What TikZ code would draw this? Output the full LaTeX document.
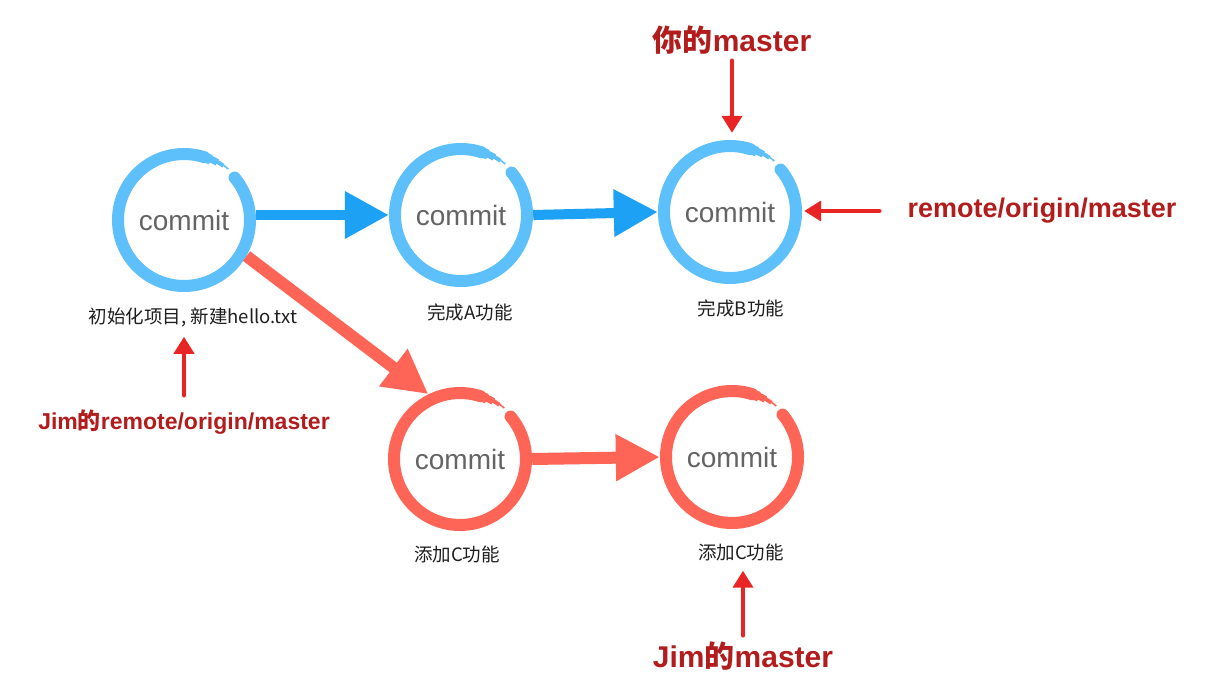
\documentclass[tikz,border=0pt]{standalone}
\usepackage{fontspec}
\setmainfont{Liberation Sans}
\newfontfamily\cjk{Noto Sans CJK SC}
\usetikzlibrary{arrows.meta}
\definecolor{ringblue}{RGB}{94,192,250}
\definecolor{arrowblue}{RGB}{28,161,245}
\definecolor{ringred}{RGB}{254,101,86}
\definecolor{pointred}{RGB}{232,36,36}
\definecolor{tagred}{RGB}{178,28,28}
\definecolor{commitgray}{RGB}{100,100,100}
\definecolor{captioncol}{RGB}{30,30,30}
\newcommand{\brushring}[2]{%
  \draw[#2, line width=12pt, line cap=round] ([shift={(40:66pt)}]#1.center) arc[start angle=40, end angle=-288, radius=66pt];
  \draw[#2, line width=10pt] ([shift={(73:66pt)}]#1.center) arc[start angle=73, end angle=66, radius=66pt];
  \draw[#2, line width=7pt] ([shift={(67:66.5pt)}]#1.center) arc[start angle=67, end angle=60, radius=66.5pt];
  \draw[#2, line width=4pt] ([shift={(61:67pt)}]#1.center) arc[start angle=61, end angle=54, radius=67pt];
  \draw[#2, line width=1.5pt] ([shift={(55:67.5pt)}]#1.center) arc[start angle=55, end angle=49, radius=67.5pt];
}
\begin{document}
\begin{tikzpicture}[x=1pt,y=1pt,
  commitnode/.style={circle, minimum size=144pt, inner sep=0pt, font=\fontsize{28}{30}\selectfont, text=commitgray},
  caption/.style={font=\cjk\fontsize{18.5}{20}\selectfont, text=captioncol, inner sep=2pt},
  tag/.style={text=tagred, inner sep=2pt},
  bluearrow/.style={draw=arrowblue, line width=10pt, -{Triangle[length=44pt,width=45pt]}},
  redarrow/.style={draw=ringred, line width=12pt, -{Triangle[length=44pt,width=44pt]}},
  pointer/.style={draw=pointred, fill=pointred, line width=4pt, line cap=round, -{Triangle[length=17pt,width=20pt]}},
]
\useasboundingbox (0,0) rectangle (1210,678);
\fill[white] (0,0) rectangle (1210,678);

% commits
\node[commitnode] (c1) at (184,458) {commit};
\node[commitnode] (c2) at (461,463) {commit};
\node[commitnode] (c3) at (730,466) {commit};
\node[commitnode] (c4) at (460,219) {commit};
\node[commitnode] (c5) at (732,221) {commit};
\brushring{c1}{ringblue}
\brushring{c2}{ringblue}
\brushring{c3}{ringblue}
\brushring{c4}{ringred}
\brushring{c5}{ringred}

% captions
\node[caption] (cap1) at (193,361) {初始化项目, 新建hello.txt};
\node[caption] (cap2) at (470,366) {完成A功能};
\node[caption] (cap3) at (741,370) {完成B功能};
\node[caption] (cap4) at (457,124) {添加C功能};
\node[caption] (cap5) at (741,126) {添加C功能};

% tags
\node[tag, font=\bfseries\fontsize{30}{32}\selectfont] (t1) at (732,638) {{\cjk\bfseries 你的}master};
\node[tag, font=\bfseries\fontsize{27}{30}\selectfont] (t2) at (1042,467) {remote/origin/master};
\node[tag, font=\bfseries\fontsize{23}{26}\selectfont] (t3) at (184,256) {Jim{\cjk\bfseries 的}remote/origin/master};
\node[tag, font=\bfseries\fontsize{30}{32}\selectfont] (t4) at (743,22) {Jim{\cjk\bfseries 的}master};

% commit connectors
\draw[bluearrow] (c1.east |- c2.west) -- (c2.west);
\draw[bluearrow] (c2.east) -- (c3.west);
\draw[redarrow] (c1.-30) -- (c4.116);
\draw[redarrow] (c4.east) -- (c5.west);

% pointers
\draw[pointer, shorten <=4pt, shorten >=7pt] (t1.south) -- (t1.south |- c3.north);
\draw[pointer, shorten <=26pt, shorten >=2pt] (t2.west) -- (t2.west -| c3.east);
\draw[pointer, shorten <=12pt, shorten >=8pt] (t3.north) -- (t3.north |- cap1.south);
\draw[pointer, shorten <=4pt, shorten >=8pt] (t4.north) -- (t4.north |- cap5.south);
\end{tikzpicture}
\end{document}
